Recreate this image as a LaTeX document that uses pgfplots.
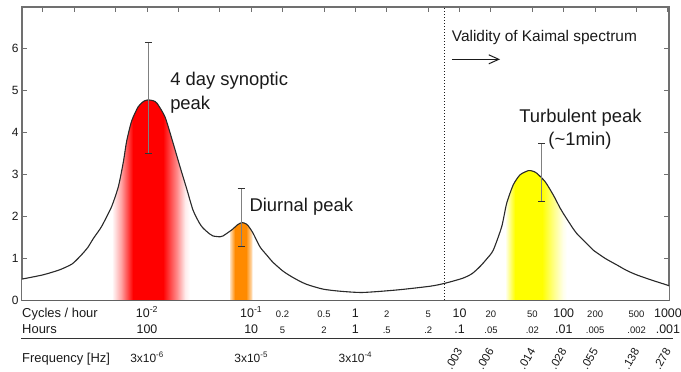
\documentclass[border=0pt]{standalone}
\usepackage{pgfplots}
\pgfplotsset{compat=1.18}
\usepackage{pgfplotstable}
\usepackage{fontspec}
\setmainfont{Liberation Sans}
\usepgfplotslibrary{fillbetween}
\usetikzlibrary{arrows.meta}

\definecolor{axgray}{HTML}{707070}
\definecolor{txt}{HTML}{1A1A1A}
\definecolor{curvecol}{HTML}{2A2A2A}
\definecolor{errgray}{HTML}{808080}
\definecolor{capgray}{HTML}{333333}
\definecolor{bandred}{HTML}{FF0000}
\definecolor{bandorange}{HTML}{FF8A00}
\definecolor{bandyellow}{HTML}{FFFF00}

% one horizontal shading spanning the whole axis width (path bbox -> 25bp..75bp)
\pgfdeclarehorizontalshading{bands}{100bp}{color(0bp)=(white); color(31.95bp)=(white); color(32.65bp)=(bandred!35); color(33.58bp)=(bandred); color(35.9bp)=(bandred); color(36.98bp)=(bandred!45); color(37.6bp)=(bandred!8); color(37.98bp)=(white); color(41.06bp)=(white); color(41.07bp)=(bandorange!25); color(41.46bp)=(bandorange); color(42.31bp)=(bandorange); color(42.77bp)=(bandorange!25); color(42.78bp)=(white); color(62.33bp)=(white); color(62.71bp)=(bandyellow!50); color(63.1bp)=(bandyellow); color(65.19bp)=(bandyellow); color(66.11bp)=(bandyellow!45); color(66.81bp)=(bandyellow!8); color(67.12bp)=(white); color(100bp)=(white)}

\newcommand\Lg[1]{{\fontsize{12.5}{14}\selectfont #1}}
\newcommand\Sm[1]{{\fontsize{9.5}{11}\selectfont #1}}

\pgfplotstableread{
lx y
-3.20 0.50
-3.00 0.60
-2.84 0.72
-2.72 0.86
-2.64 1.05
-2.57 1.25
-2.515 1.47
-2.45 1.70
-2.42 1.83
-2.34 2.23
-2.275 2.71
-2.227 3.30
-2.195 3.80
-2.147 4.28
-2.084 4.62
-2.03 4.75
-1.988 4.78
-1.94 4.76
-1.904 4.70
-1.827 4.37
-1.750 3.75
-1.683 3.18
-1.616 2.63
-1.559 2.15
-1.50 1.85
-1.463 1.72
-1.40 1.58
-1.367 1.53
-1.30 1.51
-1.271 1.53
-1.184 1.68
-1.13 1.80
-1.088 1.85
-1.05 1.82
-1.031 1.78
-0.983 1.60
-0.916 1.27
-0.85 1.07
-0.791 0.90
-0.70 0.70
-0.628 0.58
-0.55 0.47
-0.464 0.37
-0.311 0.26
-0.148 0.21
0.07 0.18
0.40 0.24
0.72 0.33
0.86 0.40
1.03 0.52
1.12 0.63
1.196 0.80
1.26 0.98
1.323 1.19
1.404 1.75
1.452 2.31
1.515 2.75
1.580 2.99
1.659 3.09
1.70 3.08
1.740 3.03
1.820 2.83
1.899 2.51
1.964 2.20
1.995 2.07
2.091 1.70
2.124 1.59
2.251 1.27
2.283 1.19
2.40 0.99
2.508 0.84
2.60 0.71
2.700 0.60
2.85 0.47
2.988 0.36
3.01 0.34
}\curvedata

\pgfplotstableread{
lx y ep em
-1.988 4.78 1.38 1.28
-1.097 1.85 0.82 0.58
1.788 2.92 0.82 0.56
}\errdata

\begin{document}
\begin{tikzpicture}
\begin{axis}[
  scale only axis, width=647bp, height=293bp,
  xmin=-3.2, xmax=3.01, ymin=0, ymax=7,
  clip=false,
  axis line style={draw=axgray, line width=1.2pt},
  tick align=inside, major tick length=5bp,
  every tick/.style={draw=axgray, line width=1pt},
  xtick pos=both, ytick pos=both, xticklabel pos=lower, yticklabel pos=left,
  ytick={0,1,2,3,4,5,6},
  yticklabel style={font=\fontsize{12}{14}\selectfont, text=txt},
  /pgf/number format/assume math mode=true,
  xtick={-3,-2.69897,-2.30103,-2,-1.69897,-1.30103,-1,-0.69897,-0.30103,0,0.30103,0.69897,1,1.30103,1.69897,2,2.30103,2.69897,3},
  xticklabels={,,,\Lg{10\textsuperscript{-2}},,,\Lg{10\textsuperscript{-1}},\Sm{0.2},\Sm{0.5},\Lg{1},\Sm{2},\Sm{5},\Lg{10},\Sm{20},\Sm{50},\Lg{100},\Sm{200},\Sm{500},\Lg{1000}},
  xticklabel style={anchor=base, yshift=-17bp, inner sep=0pt, text=txt},
  extra x ticks={-2,-1,-0.69897,-0.30103,0,0.30103,0.69897,1,1.30103,1.69897,2,2.30103,2.69897,3},
  extra x tick labels={\Lg{100},\Lg{10},\Sm{5},\Sm{2},\Lg{1},\Sm{.5},\Sm{.2},\Lg{.1},\Sm{.05},\Sm{.02},\Lg{.01},\Sm{.005},\Sm{.002},\Lg{.001}},
  extra x tick style={major tick length=0pt, xticklabel style={yshift=-16bp}},
]
% invisible named curve and baseline
\addplot[draw=none, name path=curve, smooth, tension=0.4, forget plot] table[x=lx, y=y]{\curvedata};
\addplot[draw=none, name path=base, forget plot] coordinates {(-3.2,0) (3.01,0)};

% shaded bands under the curve (one shading over the full width)
\addplot[shade, shading=bands, draw=none] fill between[of=curve and base];

% visible spectrum curve
\addplot[draw=curvecol, line width=1.1bp, smooth, tension=0.4] table[x=lx, y=y]{\curvedata};

% validity limit
\addplot[color=txt, line width=1bp, dash pattern=on 1bp off 2bp] coordinates {(0.853,0) (0.853,7)};

% error bars
\addplot[draw=none, mark=none,
  error bars/.cd, y dir=both, y explicit,
  error bar style={draw=errgray, line width=1bp},
  error mark options={rotate=90, draw=capgray, line width=1bp, mark size=3.5bp}]
  table[x=lx, y=y, y error plus=ep, y error minus=em]{\errdata};

% annotations
\node[anchor=base west, inner sep=0pt, font=\fontsize{18.5}{22}\selectfont, text=txt] at (axis cs:-1.779,5.136) {4 day synoptic};
\node[anchor=base west, inner sep=0pt, font=\fontsize{18.5}{22}\selectfont, text=txt] at (axis cs:-1.779,4.563) {peak};
\node[anchor=base west, inner sep=0pt, font=\fontsize{18.5}{22}\selectfont, text=txt] at (axis cs:-1.018,2.126) {Diurnal peak};
\node[anchor=base, inner sep=0pt, font=\fontsize{18.5}{22}\selectfont, text=txt] at (axis cs:2.160,4.236) {Turbulent peak};
\node[anchor=base, inner sep=0pt, font=\fontsize{18.5}{22}\selectfont, text=txt] at (axis cs:2.155,3.70) {(\textasciitilde1min)};
\node[anchor=base west, inner sep=0pt, font=\fontsize{15.5}{18}\selectfont, text=txt] at (axis cs:0.924,6.171) {Validity of Kaimal spectrum};
\draw[-{Straight Barb[length=10bp,width=9bp]}, line width=1bp, color=txt] (axis cs:0.927,5.75) -- (axis cs:1.388,5.75);

% row titles
\node[anchor=base west, inner sep=0pt, font=\fontsize{13}{15}\selectfont, text=txt] at ([yshift=-17bp]rel axis cs:0,0) {Cycles / hour};
\node[anchor=base west, inner sep=0pt, font=\fontsize{13}{15}\selectfont, text=txt] at ([yshift=-33bp]rel axis cs:0,0) {Hours};
\draw[line width=1.3bp, color=capgray] ([xshift=-1bp,yshift=-38.5bp]rel axis cs:0,0) -- ([xshift=4bp,yshift=-38.5bp]rel axis cs:1,0);
\node[anchor=base west, inner sep=0pt, font=\fontsize{13}{15}\selectfont, text=txt] at ([yshift=-62bp]rel axis cs:0,0) {Frequency [Hz]};

% frequency labels
\node[anchor=base, inner sep=0pt, font=\fontsize{12}{14}\selectfont, text=txt] at ([yshift=-62bp]axis cs:-2,0) {3x10\textsuperscript{-6}};
\node[anchor=base, inner sep=0pt, font=\fontsize{12}{14}\selectfont, text=txt] at ([yshift=-62bp]axis cs:-1,0) {3x10\textsuperscript{-5}};
\node[anchor=base, inner sep=0pt, font=\fontsize{12}{14}\selectfont, text=txt] at ([yshift=-62bp]axis cs:0,0) {3x10\textsuperscript{-4}};
\node[anchor=east, rotate=60, inner sep=0pt, font=\fontsize{11.5}{13}\selectfont, text=txt] at ([yshift=-49bp]axis cs:1,0) {.003};
\node[anchor=east, rotate=60, inner sep=0pt, font=\fontsize{11.5}{13}\selectfont, text=txt] at ([yshift=-49bp]axis cs:1.30103,0) {.006};
\node[anchor=east, rotate=60, inner sep=0pt, font=\fontsize{11.5}{13}\selectfont, text=txt] at ([yshift=-49bp]axis cs:1.69897,0) {.014};
\node[anchor=east, rotate=60, inner sep=0pt, font=\fontsize{11.5}{13}\selectfont, text=txt] at ([yshift=-49bp]axis cs:2,0) {.028};
\node[anchor=east, rotate=60, inner sep=0pt, font=\fontsize{11.5}{13}\selectfont, text=txt] at ([yshift=-49bp]axis cs:2.30103,0) {.055};
\node[anchor=east, rotate=60, inner sep=0pt, font=\fontsize{11.5}{13}\selectfont, text=txt] at ([yshift=-49bp]axis cs:2.69897,0) {.138};
\node[anchor=east, rotate=60, inner sep=0pt, font=\fontsize{11.5}{13}\selectfont, text=txt] at ([yshift=-49bp]axis cs:3,0) {.278};
\end{axis}
\pgfresetboundingbox
\path (-22bp,-72bp) rectangle (659bp,300bp);
\end{tikzpicture}
\end{document}
